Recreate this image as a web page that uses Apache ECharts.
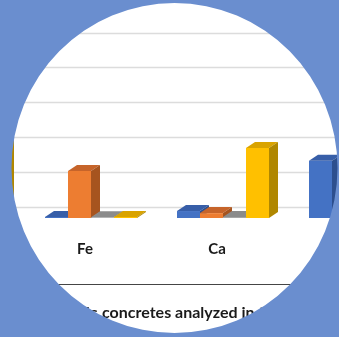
<!DOCTYPE html>
<html>
<head>
<meta charset="utf-8">
<script src="https://cdn.jsdelivr.net/npm/echarts@6/dist/echarts.min.js"></script>
<style>
  html, body { margin: 0; padding: 0; background: #6a8ecf; }
  #chart { width: 339px; height: 337px; }
</style>
</head>
<body>
<div id="chart"></div>
<script>
// Element categories along the x axis
const categories = ['Al', 'Fe', 'Ca', 'Si'];

// Measured amounts per sample (one array per sample, one value per element)
const sampleA = [3.0, 0.3, 2.0, 16.4];
const sampleB = [2.0, 13.5, 1.4, 2.0];
const sampleC = [0.3, 0.2, 0.3, 0.3];
const sampleD = [24.0, 0.3, 20.1, 8.0];

// Value axis ticks
const valueMax = 60;
const valueStep = 10;

const seriesValues = [sampleA, sampleB, sampleC, sampleD];

// Face colours for the pseudo-3D columns: front, top, right side
const palette = [
  { front: '#4472c4', top: '#375ea8', side: '#2d4f8e' },
  { front: '#ed7d31', top: '#c6642a', side: '#a6541f' },
  { front: '#a5a5a5', top: '#8b8b8b', side: '#737373' },
  { front: '#ffc000', top: '#d9a300', side: '#b08700' }
];

const DEPTH_X = 9;
const DEPTH_Y = 6;
const BAR_FRAC = 23 / 132;     // width of one column relative to a category band
const GROUP_SHIFT = 40 / 132;  // where the first column starts, left of the band centre

function makeRenderer(s) {
  const col = palette[s];
  return function (params, api) {
    const cat = api.value(0);
    const v = api.value(1);
    const base = api.coord([cat, 0]);
    const top = api.coord([cat, v]);
    const band = api.size([1, 0])[0];
    const w = band * BAR_FRAC;
    const x0 = base[0] - band * GROUP_SHIFT + s * w;
    const yb = base[1];
    const yt = top[1];
    return {
      type: 'group',
      children: [
        {
          type: 'rect',
          shape: { x: x0, y: yt, width: w, height: yb - yt },
          style: { fill: col.front }
        },
        {
          type: 'polygon',
          shape: { points: [[x0, yt], [x0 + w, yt], [x0 + w + DEPTH_X, yt - DEPTH_Y], [x0 + DEPTH_X, yt - DEPTH_Y]] },
          style: { fill: col.top }
        },
        {
          type: 'polygon',
          shape: { points: [[x0 + w, yt], [x0 + w + DEPTH_X, yt - DEPTH_Y], [x0 + w + DEPTH_X, yb - DEPTH_Y], [x0 + w, yb]] },
          style: { fill: col.side }
        }
      ]
    };
  };
}

const chart = echarts.init(document.getElementById('chart'), null, { renderer: 'canvas' });

const series = seriesValues.map(function (vals, s) {
  return {
    type: 'custom',
    xAxisIndex: 1,
    yAxisIndex: 1,
    renderItem: makeRenderer(s),
    encode: { x: 0, y: 1 },
    clip: false,
    data: vals.map(function (v, i) { return [i, v]; })
  };
});

chart.setOption({
  backgroundColor: '#ffffff',
  animation: false,
  grid: [
    // back wall carrying the gridlines
    { left: -113, right: -76, top: -2, bottom: 130, containLabel: false, outerBoundsMode: 'none' },
    // columns standing on the floor in front of it
    { left: -113, right: -76, top: 9, bottom: 119, containLabel: false, outerBoundsMode: 'none' }
  ],
  xAxis: [
    { type: 'category', gridIndex: 0, data: categories, show: false },
    {
      type: 'category', gridIndex: 1, data: categories,
      axisLine: { show: false }, axisTick: { show: false },
      axisLabel: {
        margin: 31, verticalAlign: 'middle',
        fontFamily: 'Lato', fontWeight: 'bold', fontSize: 15, color: '#1a1a1a'
      }
    }
  ],
  yAxis: [
    {
      type: 'value', gridIndex: 0, min: 0, max: valueMax, interval: valueStep,
      axisLabel: { show: false }, axisLine: { show: false }, axisTick: { show: false },
      splitLine: { lineStyle: { color: '#dcdcdc', width: 1.3 } }
    },
    {
      type: 'value', gridIndex: 1, min: 0, max: valueMax, interval: valueStep,
      show: false, splitLine: { show: false }
    }
  ],
  series: series,
  graphic: [
    {
      type: 'line', z: 5,
      shape: { x1: 0, y1: 284.5, x2: 339, y2: 284.5 },
      style: { stroke: '#454545', lineWidth: 1 }
    },
    {
      type: 'text', z: 5, x: 97.5, y: 313,
      style: {
        text: 'Elemental composition of the ceramic',
        textAlign: 'right', textVerticalAlign: 'middle',
        font: 'bold 16px Lato', fill: '#1a1a1a'
      }
    },
    {
      type: 'text', z: 5, x: 102, y: 313,
      style: {
        text: 'concretes analyzed in this study',
        textAlign: 'left', textVerticalAlign: 'middle',
        font: 'bold 16px Lato', fill: '#1a1a1a'
      }
    },
    {
      // blue surround leaving a round window onto the chart
      type: 'ring', z: 20, x: 174.5, y: 168, scaleX: 163 / 165,
      shape: { cx: 0, cy: 0, r: 700, r0: 165 },
      style: { fill: '#6a8ecf' }
    }
  ]
});
</script>
</body>
</html>
